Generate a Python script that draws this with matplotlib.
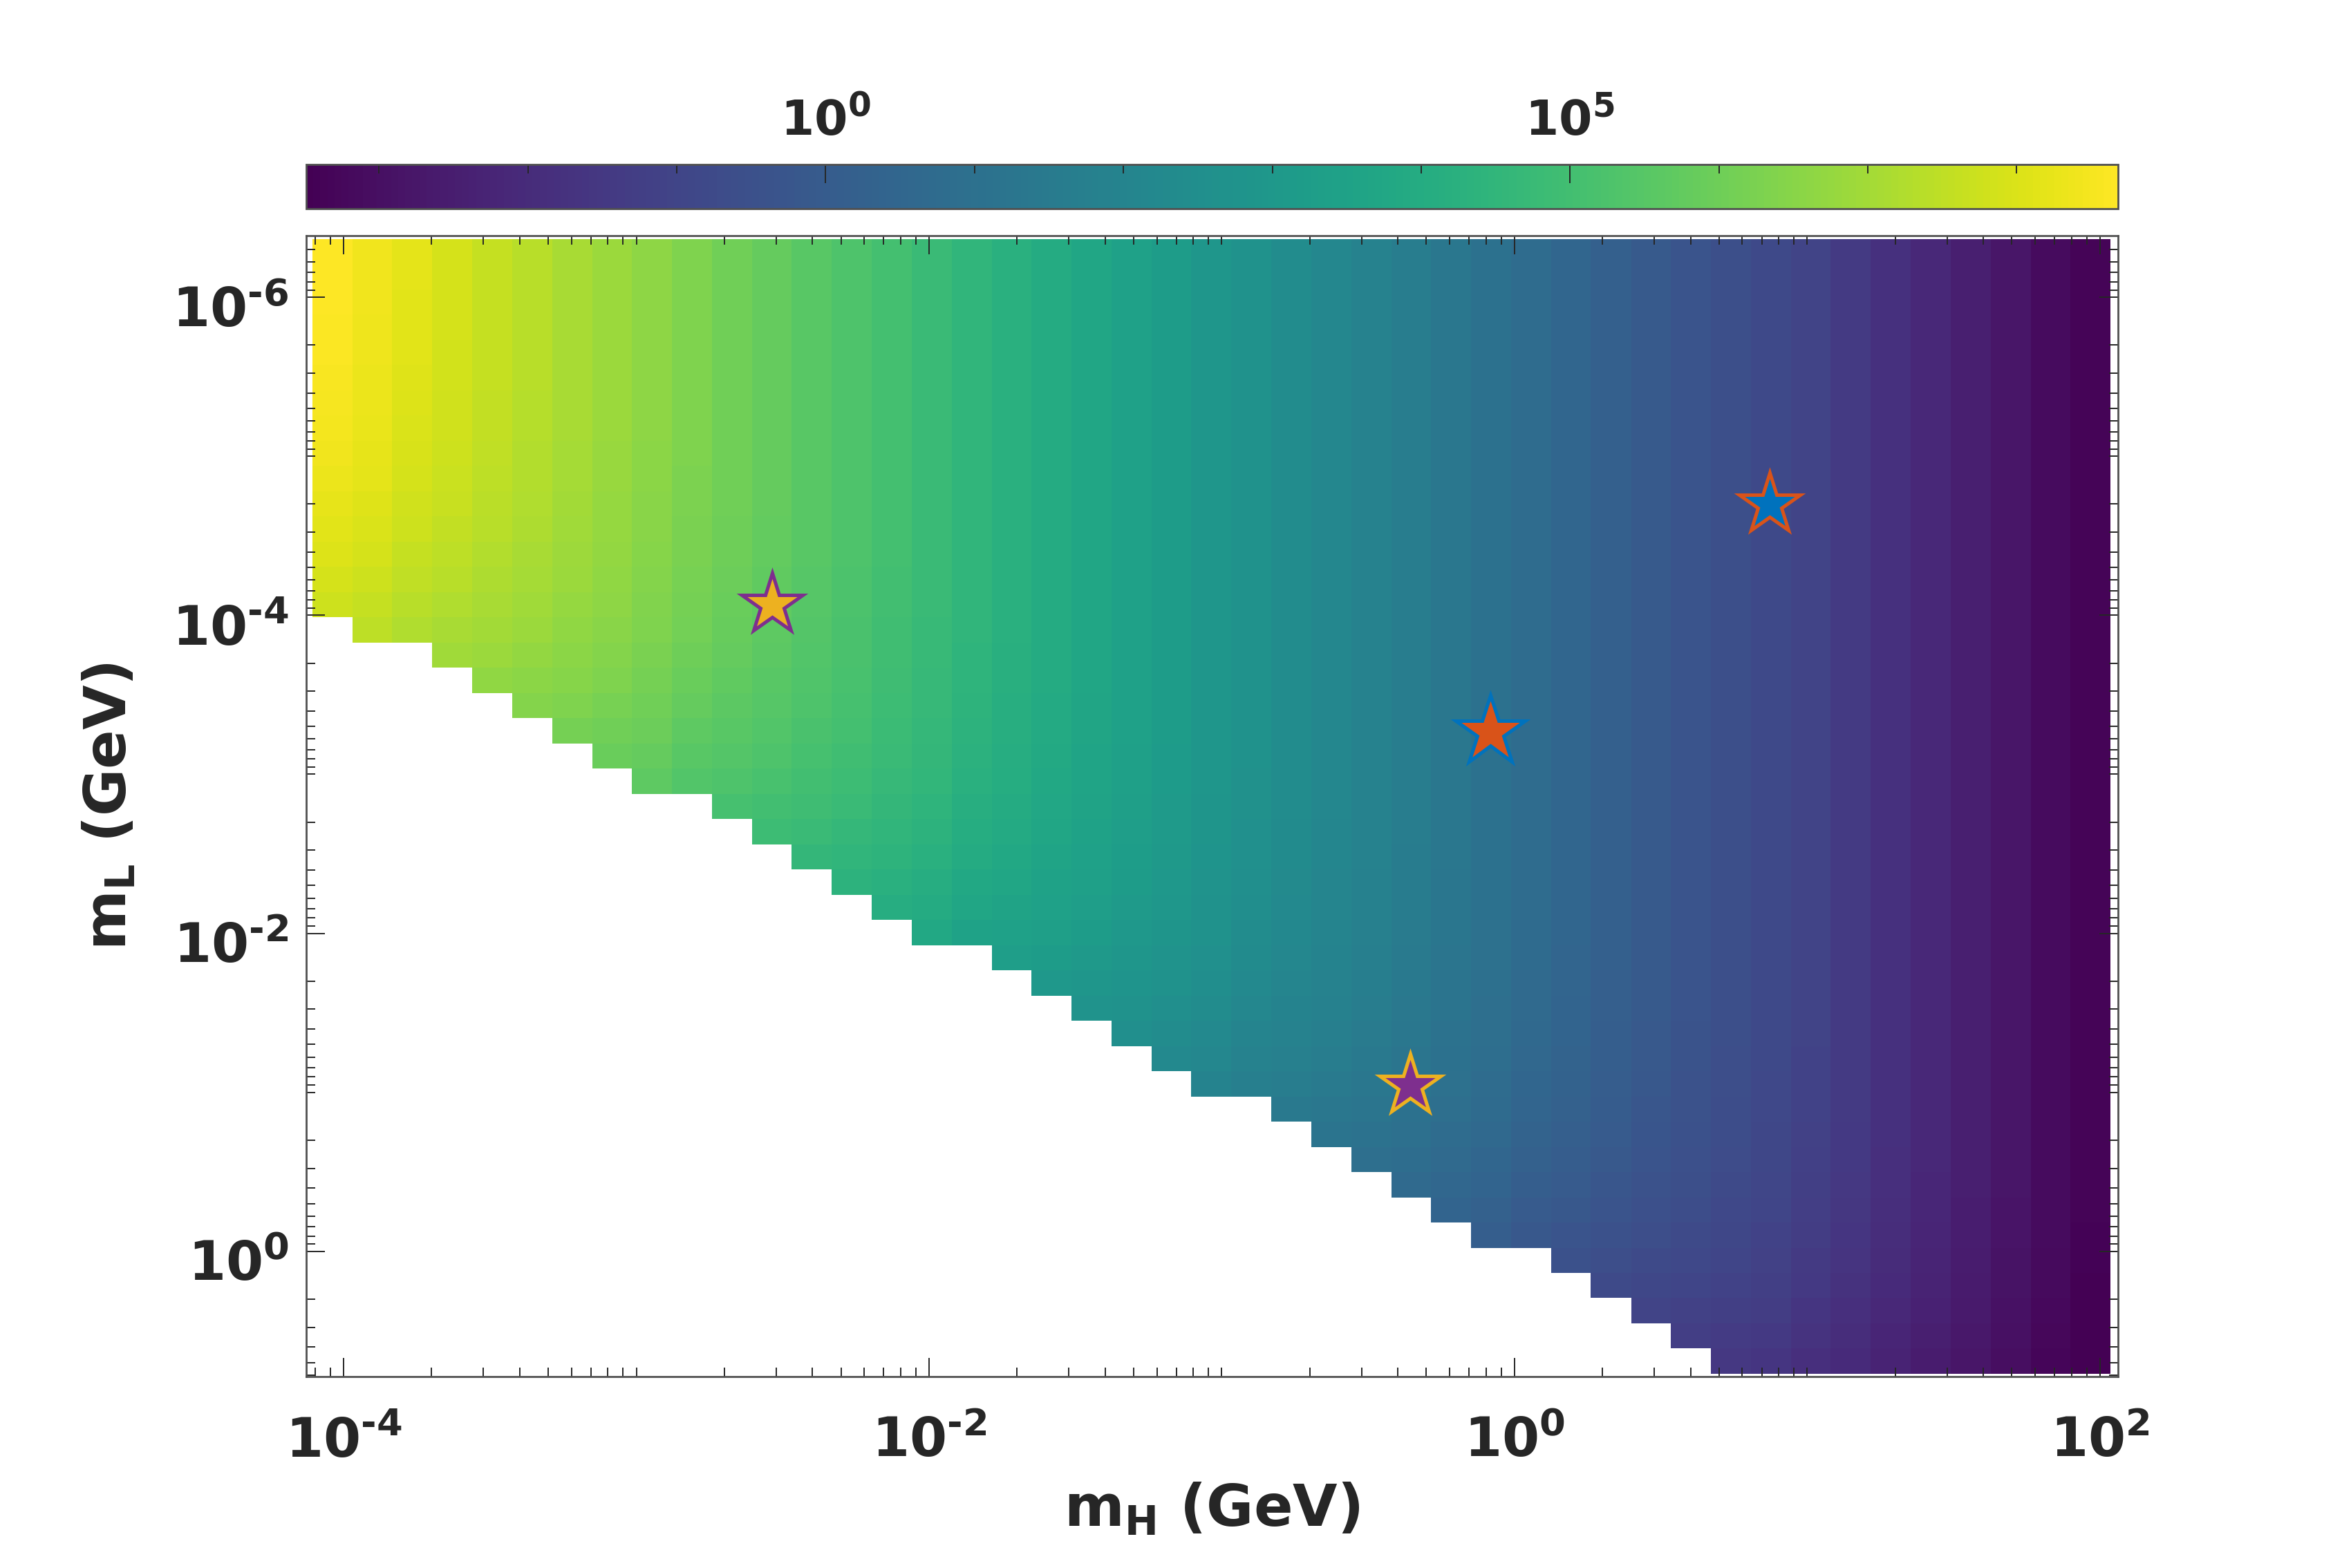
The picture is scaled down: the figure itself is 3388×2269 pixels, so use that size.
#! /usr/bin/env python

import matplotlib as mpl

mpl.use("Agg")

import matplotlib.pyplot as plt
import numpy as np
from matplotlib.colors import LogNorm
from matplotlib.markers import MarkerStyle
from matplotlib.ticker import LogLocator, NullFormatter
from matplotlib.transforms import ScaledTranslation

# cell edges, log10(GeV)
log_mh_edges = [
    -4.107, -3.970, -3.834, -3.697, -3.561, -3.424, -3.288, -3.151, -3.015, -2.878,
    -2.742, -2.605, -2.469, -2.332, -2.196, -2.059, -1.923, -1.786, -1.650, -1.513,
    -1.377, -1.240, -1.104, -0.967, -0.831, -0.694, -0.558, -0.421, -0.285, -0.148,
    -0.012, 0.125, 0.261, 0.398, 0.534, 0.671, 0.807, 0.944, 1.080, 1.217,
    1.353, 1.490, 1.626, 1.763, 1.899, 2.036,
]
log_ml_edges = [
    -6.366, -6.207, -6.049, -5.890, -5.732, -5.573, -5.415, -5.256, -5.097, -4.939,
    -4.780, -4.622, -4.463, -4.305, -4.146, -3.987, -3.829, -3.670, -3.512, -3.353,
    -3.194, -3.036, -2.877, -2.719, -2.560, -2.402, -2.243, -2.084, -1.926, -1.767,
    -1.609, -1.450, -1.292, -1.133, -0.974, -0.816, -0.657, -0.499, -0.340, -0.182,
    -0.023, 0.136, 0.294, 0.453, 0.611, 0.770,
]

# log10 of the colour value along the top row, one per mH column
column_log = [
    8.68, 8.42, 8.16, 7.90, 7.63, 7.37, 7.11, 6.85, 6.59, 6.33,
    6.06, 5.80, 5.54, 5.28, 5.02, 4.76, 4.49, 4.23, 3.97, 3.71,
    3.45, 3.19, 2.92, 2.66, 2.40, 2.14, 1.88, 1.60, 1.32, 1.04,
    0.76, 0.48, 0.20, -0.08, -0.33, -0.57, -0.81, -1.06, -1.40, -1.79,
    -2.12, -2.45, -2.80, -3.12, -3.37,
]
# row where each column runs out, past the last row on the right
limit_rows = [
    15, 16, 16, 17, 18, 19, 20, 21, 22, 22,
    23, 24, 25, 26, 27, 28, 28, 29, 30, 31,
    32, 33, 34, 34, 35, 36, 37, 38, 39, 40,
    40, 41, 42, 43, 44, 45, 46, 46, 47, 48,
    49, 50, 51, 52, 52,
]
# drop of the colour value by number of rows above that limit (1, 2, 3...)
limit_drop = [0.95, 0.80, 0.66, 0.54, 0.43, 0.34, 0.26, 0.20, 0.15, 0.11, 0.08, 0.05, 0.03, 0.01, 0.00]

star_mh = [7.45, 0.828, 0.00291, 0.44]
star_ml = [2.02e-5, 5.4e-4, 8.6e-5, 0.0908]
star_fill = ["#0072BD", "#D95319", "#EDB120", "#7E2F8E"]
star_edge = ["#D95319", "#0072BD", "#7E2F8E", "#EDB120"]
star_size = [33, 38, 33, 33]

x_ticks = [1e-4, 1e-2, 1e0, 1e2]
x_tick_labels = ["$\\mathbf{10^{\u20104}}$", "$\\mathbf{10^{\u20102}}$", r"$\mathbf{10^{0}}$", r"$\mathbf{10^{2}}$"]
y_ticks = [1e-6, 1e-4, 1e-2, 1e0]
y_tick_labels = ["$\\mathbf{10^{\u20106}}$", "$\\mathbf{10^{\u20104}}$", "$\\mathbf{10^{\u20102}}$", r"$\mathbf{10^{0}}$"]
bar_ticks = [1e0, 1e5]
bar_tick_labels = [r"$\mathbf{10^{0}}$", r"$\mathbf{10^{5}}$"]
bar_minor = [1e-3, 1e-2, 1e-1, 1e1, 1e2, 1e3, 1e4, 1e6, 1e7, 1e8]

DARK = "#262626"
SPINE = "#505050"

plt.rcParams["mathtext.fontset"] = "dejavusans"
plt.rcParams["font.weight"] = "bold"

rows_left = np.array(limit_rows)[None, :] - np.arange(len(log_ml_edges) - 1)[:, None]
drop = np.array(limit_drop)[np.clip(rows_left - 1, 0, len(limit_drop) - 1)]
values = np.ma.masked_where(rows_left <= 0, 10 ** (np.array(column_log) - drop))

figure = plt.figure(figsize=(16.94, 11.345), dpi=200)
axes = figure.add_axes([0.1307, 0.1219, 0.7736, 0.7276])
cax = figure.add_axes([0.1307, 0.8667, 0.7736, 0.0286])

mesh = axes.pcolormesh(
    10 ** np.array(log_mh_edges),
    10 ** np.array(log_ml_edges),
    values,
    cmap="viridis",
    norm=LogNorm(vmin=10**-3.49, vmax=10**8.68),
    shading="flat",
)

for mh, ml, fill, edge, size in zip(star_mh, star_ml, star_fill, star_edge, star_size):
    axes.plot(
        mh,
        ml,
        linestyle="none",
        marker=MarkerStyle("*", joinstyle="miter"),
        markersize=size,
        markerfacecolor=fill,
        markeredgecolor=edge,
        markeredgewidth=1.8,
        zorder=5,
    )

axes.set_xscale("log")
axes.set_yscale("log")
axes.set_xlim(10**-4.128, 10**2.061)
axes.set_ylim(10**0.789, 10**-6.385)

axes.set_xticks(x_ticks, x_tick_labels)
axes.set_yticks(y_ticks, y_tick_labels)
for axis in (axes.xaxis, axes.yaxis):
    axis.set_minor_locator(LogLocator(base=10, subs=range(1, 10), numticks=30))
    axis.set_minor_formatter(NullFormatter())
axes.tick_params(
    which="major", direction="in", top=True, right=True, length=9.7, width=0.7,
    color=DARK, labelcolor=DARK, labelsize=28,
)
axes.tick_params(axis="x", which="major", pad=20)
axes.tick_params(axis="y", which="major", pad=9)
axes.tick_params(which="minor", direction="in", top=True, right=True, length=4.6, width=0.7, color=DARK)
for spine in axes.spines.values():
    spine.set_color(SPINE)
    spine.set_linewidth(1.0)

# the y labels sit a little under their ticks
nudge = ScaledTranslation(0, -4.5 / 72, figure.dpi_scale_trans)
for label in axes.get_yticklabels():
    label.set_transform(label.get_transform() + nudge)

axes.set_xlabel(r"$\mathbf{m_H}$ (GeV)", fontsize=30, fontweight="bold", color=DARK, labelpad=7)
axes.set_ylabel(r"$\mathbf{m_L}$ (GeV)", fontsize=30, fontweight="bold", color=DARK, labelpad=18)

bar = figure.colorbar(mesh, cax=cax, orientation="horizontal")
cax.xaxis.set_ticks_position("top")
cax.xaxis.set_ticks(bar_ticks, bar_tick_labels)
cax.xaxis.set_ticks(bar_minor, minor=True)
cax.xaxis.set_minor_formatter(NullFormatter())
cax.tick_params(which="major", direction="in", length=9.7, width=0.7, color=DARK, labelcolor=DARK, labelsize=25, pad=10)
cax.tick_params(which="minor", direction="in", length=4.6, width=0.7, color=DARK)
bar.outline.set_edgecolor(SPINE)
bar.outline.set_linewidth(1.0)

figure.savefig("out.png", dpi=200)
